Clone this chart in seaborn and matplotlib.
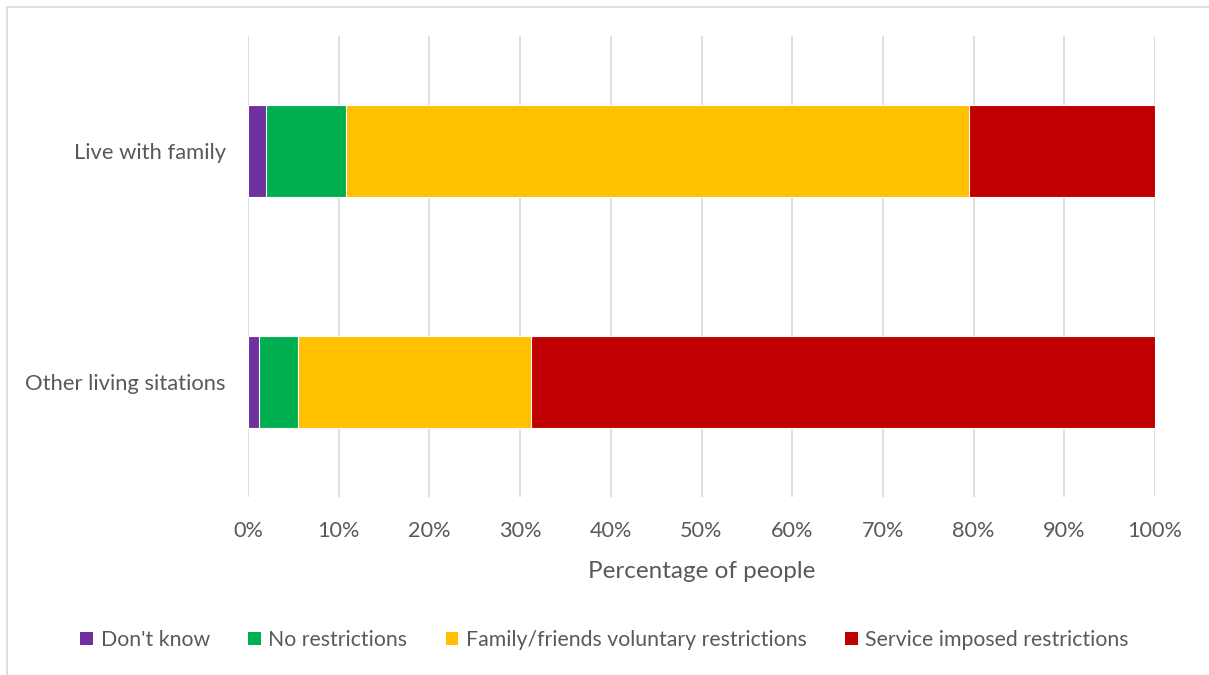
import pandas as pd
import matplotlib
matplotlib.use('Agg')
import matplotlib.pyplot as plt
from matplotlib.patches import Patch, Rectangle
import seaborn as sns

groups = ['Live with family', 'Other living sitations']
dont_know = [2.0, 1.2]
no_restrictions = [8.8, 4.3]
family_voluntary = [68.7, 25.7]
service_imposed = [20.5, 68.8]

series = ["Don't know", 'No restrictions', 'Family/friends voluntary restrictions',
          'Service imposed restrictions']
colors = ['#7030A0', '#00B050', '#FFC000', '#C00000']

df = pd.DataFrame({
    'group': groups,
    series[0]: dont_know,
    series[1]: no_restrictions,
    series[2]: family_voluntary,
    series[3]: service_imposed,
})
# cumulative totals so the bars can be overlaid back to front
cum = df[series].cumsum(axis=1)
cum['group'] = df['group']

sns.set_style('white')
plt.rcParams['font.family'] = ['Lato', 'DejaVu Sans']
text_color = '#595959'

fig = plt.figure(figsize=(12.09, 6.75), dpi=100)
ax = fig.add_axes([248 / 1209, 1 - 497 / 675, (1155 - 248) / 1209, (497 - 36) / 675])

for name, color in reversed(list(zip(series, colors))):
    sns.barplot(data=cum, x=name, y='group', orient='h', color=color, saturation=1,
                width=0.4, edgecolor='white', linewidth=0.8, ax=ax, zorder=3)

ax.set_xlim(0, 100)
ax.set_ylim(1.5, -0.5)
ticks = list(range(0, 101, 10))
ax.set_xticks(ticks)
ax.set_xticklabels([f'{t}%' for t in ticks])
ax.grid(axis='x', color='#D9D9D9', linewidth=1.2, zorder=0)
ax.grid(axis='y', visible=False)
ax.set_axisbelow(True)
for s in ax.spines.values():
    s.set_visible(False)
ax.tick_params(axis='x', length=0, pad=17, labelsize=15.6, labelcolor=text_color)
ax.tick_params(axis='y', length=0, pad=16, labelsize=15.8, labelcolor=text_color)
ax.set_ylabel('')
ax.set_xlabel('Percentage of people', fontsize=17.5, color=text_color, labelpad=15)

handles = [Patch(facecolor=c, edgecolor='none') for c in colors]
fig.legend(handles, series, loc='center', bbox_to_anchor=(0.5, 1 - 640 / 675), ncol=4,
           frameon=False, fontsize=15.3, handlelength=0.6, handleheight=0.6,
           handletextpad=0.35, columnspacing=1.8, labelcolor=text_color)

fig.patches.append(Rectangle((7 / 1209, -0.02), 1.1, 1 - 7 / 675 + 0.02,
                             transform=fig.transFigure, fill=False,
                             edgecolor='#D9D9D9', linewidth=1.2))

fig.savefig('out.png', dpi=100)
plt.close(fig)
